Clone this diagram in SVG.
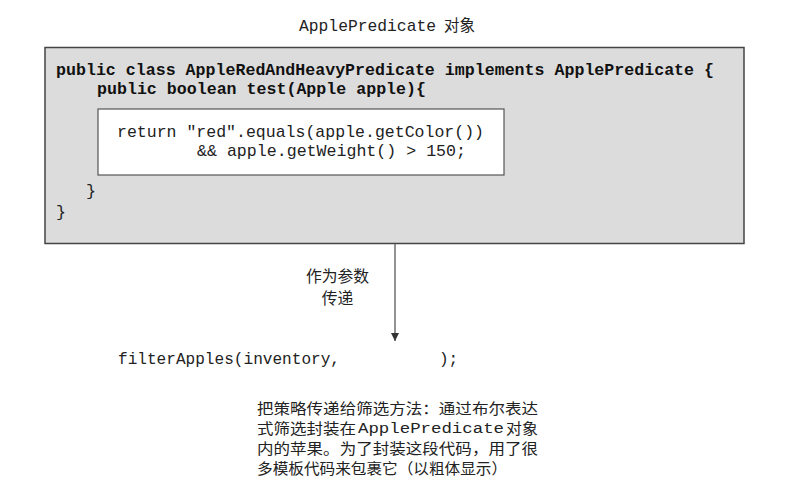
<svg xmlns="http://www.w3.org/2000/svg" width="798" height="488" viewBox="0 0 798 488">
<defs>
<style>
.mono{font-family:"Liberation Mono","DejaVu Sans Mono",monospace;fill:#222;}
.bold{font-weight:bold;fill:#111;}
.cjk{font-family:"Noto Sans CJK SC","Noto Sans",sans-serif;fill:#222;}
.outer{fill:#dcdcdc;stroke:#444;stroke-width:1.5;}
.inner{fill:#ffffff;stroke:#555;stroke-width:1.2;}
.conn{stroke:#777;stroke-width:1.6;fill:none;}
</style>
<marker id="arrow" viewBox="0 0 8 10" refX="8" refY="5" markerUnits="userSpaceOnUse" markerWidth="8" markerHeight="10" orient="auto">
<path d="M0,1 L8,5 L0,9 Z" fill="#333"/>
</marker>
</defs>
<rect width="798" height="488" fill="#ffffff"/>

<g id="title">
<text class="mono" x="299" y="31" font-size="16.4" textLength="137" lengthAdjust="spacingAndGlyphs">ApplePredicate</text>
<text class="cjk" x="444" y="31" font-size="15.5">对象</text>
</g>

<g id="node-apple-red-and-heavy-predicate">
<rect class="outer" x="45" y="47.5" width="699" height="196"/>
<text class="mono bold" x="56" y="75" font-size="16.6" textLength="658" lengthAdjust="spacingAndGlyphs">public class AppleRedAndHeavyPredicate implements ApplePredicate {</text>
<text class="mono bold" x="97" y="94" font-size="16.6" textLength="329" lengthAdjust="spacingAndGlyphs">public boolean test(Apple apple){</text>
<text class="mono" x="86" y="196" font-size="16.6">}</text>
<text class="mono" x="56" y="217" font-size="16.6">}</text>
</g>

<g id="node-condition">
<rect class="inner" x="98" y="109" width="406" height="66"/>
<text class="mono" x="117" y="137" font-size="16.6" textLength="367" lengthAdjust="spacingAndGlyphs">return "red".equals(apple.getColor())</text>
<text class="mono" x="197" y="156" font-size="16.6" textLength="269" lengthAdjust="spacingAndGlyphs">&amp;&amp; apple.getWeight() &gt; 150;</text>
</g>

<g id="connectors">
<line class="conn" x1="395" y1="244" x2="395" y2="341" marker-end="url(#arrow)"/>
</g>

<g id="label-pass-as-argument">
<text class="cjk" x="337.5" y="282" font-size="15.8" text-anchor="middle">作为参数</text>
<text class="cjk" x="337.5" y="304" font-size="15.8" text-anchor="middle">传递</text>
</g>

<g id="node-filter-call">
<text class="mono" x="118" y="364" font-size="16" textLength="222" lengthAdjust="spacingAndGlyphs">filterApples(inventory,</text>
<text class="mono" x="439" y="364" font-size="16">);</text>
</g>

<g id="note">
<text class="cjk" x="257" y="414" font-size="15.2" textLength="281" lengthAdjust="spacingAndGlyphs">把策略传递给筛选方法：通过布尔表达</text>
<text class="cjk" x="257" y="434" font-size="15.2" textLength="99" lengthAdjust="spacingAndGlyphs">式筛选封装在</text>
<text class="mono" x="358" y="432.5" font-size="14.5" textLength="146" lengthAdjust="spacingAndGlyphs">ApplePredicate</text>
<text class="cjk" x="506" y="434" font-size="15.2" textLength="32" lengthAdjust="spacingAndGlyphs">对象</text>
<text class="cjk" x="257" y="454" font-size="15.2" textLength="281" lengthAdjust="spacingAndGlyphs">内的苹果。为了封装这段代码，用了很</text>
<text class="cjk" x="257" y="474" font-size="15.2" textLength="250" lengthAdjust="spacingAndGlyphs">多模板代码来包裹它（以粗体显示）</text>
</g>
</svg>
